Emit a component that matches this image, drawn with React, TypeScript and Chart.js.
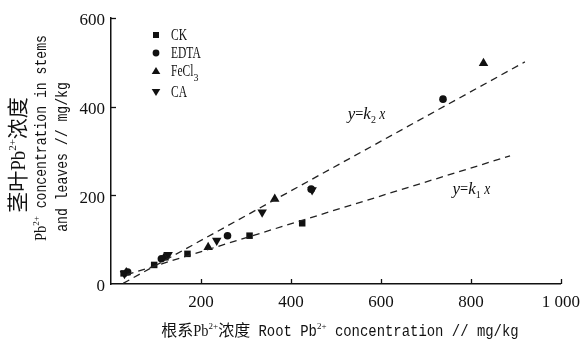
import React, { useEffect, useRef } from 'react';
import { Chart, registerables } from 'chart.js';

Chart.register(...registerables);

// ---- data ----
const xTicks = [0, 200, 400, 600, 800, 1000];
const yTicks = [0, 200, 400, 600];

const seriesNames = ['CK', 'EDTA', 'FeCl', 'CA'];

const ckX = [28, 96, 170, 308, 425];
const ckY = [24, 43, 68, 109, 137];

const edtaX = [37, 112, 259, 445, 738];
const edtaY = [27, 57, 109, 214, 417];

const fecl3X = [34, 118, 216, 364, 828];
const fecl3Y = [26, 59, 83, 192, 498];

const caX = [30, 127, 235, 336, 447];
const caY = [23, 66, 98, 162, 212];

const k1X = [35, 887];
const k1Y = [21, 289];
const k2X = [27, 920];
const k2Y = [1.5, 501];

const k1LabelPos = [801, 202];
const k2LabelPos = [568, 373];

// ---- fonts ----
const SERIF = "'Liberation Serif', 'Times New Roman', serif";
const MONO = "'Liberation Mono', monospace";
const CJK = "'Noto Sans CJK SC', sans-serif";
const INK = '#111111';

type Seg = { t: string; font: string; sx?: number; dy?: number };

function drawRich(ctx: CanvasRenderingContext2D, segs: Seg[], cx: number, cy: number, rot: number, align: 'center' | 'left' = 'center') {
  ctx.save();
  ctx.translate(cx, cy);
  ctx.rotate(rot);
  ctx.textBaseline = 'alphabetic';
  ctx.textAlign = 'left';
  ctx.fillStyle = INK;
  let total = 0;
  const widths = segs.map((s) => {
    ctx.font = s.font;
    const w = ctx.measureText(s.t).width * (s.sx ?? 1);
    total += w;
    return w;
  });
  let x = align === 'center' ? -total / 2 : 0;
  segs.forEach((s, i) => {
    ctx.font = s.font;
    ctx.save();
    ctx.translate(x, s.dy ?? 0);
    ctx.scale(s.sx ?? 1, 1);
    ctx.fillText(s.t, 0, 0);
    ctx.restore();
    x += widths[i];
  });
  ctx.restore();
}

function drawMarker(ctx: CanvasRenderingContext2D, kind: number, x: number, y: number) {
  ctx.save();
  ctx.fillStyle = INK;
  ctx.beginPath();
  if (kind === 0) {
    ctx.rect(x - 3, y - 3, 6, 6);
  } else if (kind === 1) {
    ctx.arc(x, y, 3.4, 0, Math.PI * 2);
  } else if (kind === 2) {
    ctx.moveTo(x, y - 4);
    ctx.lineTo(x + 4.3, y + 3);
    ctx.lineTo(x - 4.3, y + 3);
    ctx.closePath();
  } else {
    ctx.moveTo(x, y + 4);
    ctx.lineTo(x + 4.3, y - 3);
    ctx.lineTo(x - 4.3, y - 3);
    ctx.closePath();
  }
  ctx.fill();
  ctx.restore();
}

const inwardTicks = {
  id: 'inwardTicks',
  afterDatasetsDraw(chart: any) {
    const { ctx, chartArea, scales } = chart;
    ctx.save();
    ctx.strokeStyle = INK;
    ctx.lineWidth = 1.3;
    xTicks.forEach((v) => {
      if (v === 0) return;
      const px = Math.round(scales.x.getPixelForValue(v)) + 0.5;
      ctx.beginPath();
      ctx.moveTo(px, chartArea.bottom);
      ctx.lineTo(px, chartArea.bottom - 5);
      ctx.stroke();
    });
    yTicks.forEach((v) => {
      if (v === 0) return;
      const py = Math.round(scales.y.getPixelForValue(v)) + 0.5;
      ctx.beginPath();
      ctx.moveTo(chartArea.left, py);
      ctx.lineTo(chartArea.left + 5, py);
      ctx.stroke();
    });
    ctx.restore();
  },
};

const textLayer = {
  id: 'textLayer',
  afterDraw(chart: any) {
    const { ctx, scales } = chart;
    // x axis title
    drawRich(ctx, [
      { t: '根系', font: `16px ${CJK}` },
      { t: 'Pb', font: `16px ${SERIF}`, sx: 0.9 },
      { t: '2+', font: `9px ${SERIF}`, dy: -7 },
      { t: '浓度', font: `16px ${CJK}` },
      { t: ' Root Pb', font: `16px ${MONO}`, sx: 0.87 },
      { t: '2+', font: `9px ${SERIF}`, dy: -7 },
      { t: ' concentration // mg/kg', font: `16px ${MONO}`, sx: 0.87 },
    ], 340, 336, 0);

    // y axis title (three lines, rotated)
    const rot = -Math.PI / 2;
    drawRich(ctx, [
      { t: '茎叶', font: `21px ${CJK}` },
      { t: 'Pb', font: `21px ${SERIF}`, sx: 0.9 },
      { t: '2+', font: `11px ${SERIF}`, dy: -9 },
      { t: '浓度', font: `21px ${CJK}` },
    ], 25, 155, rot);
    drawRich(ctx, [
      { t: 'Pb', font: `16px ${SERIF}`, sx: 0.9 },
      { t: '2+', font: `9px ${SERIF}`, dy: -7 },
      { t: ' concentration in stems', font: `16px ${MONO}`, sx: 0.82 },
    ], 46, 138, rot);
    drawRich(ctx, [
      { t: 'and leaves // mg/kg', font: `16px ${MONO}`, sx: 0.82 },
    ], 67, 157, rot);

    // legend
    const rows = [35, 53, 71, 92];
    seriesNames.forEach((name, i) => {
      drawMarker(ctx, i, 156, rows[i]);
      const segs: Seg[] = [{ t: name, font: `16px ${SERIF}`, sx: 0.72 }];
      if (i === 2) segs.push({ t: '3', font: `10px ${SERIF}`, dy: 5 });
      drawRich(ctx, segs, 171, rows[i] + 5, 0, 'left');
    });

    // equation labels
    const eq = (sub: string, pos: number[]) => {
      const px = scales.x.getPixelForValue(pos[0]);
      const py = scales.y.getPixelForValue(pos[1]);
      drawRich(ctx, [
        { t: 'y', font: `italic 17px ${SERIF}` },
        { t: '=', font: `16px ${SERIF}`, sx: 0.9 },
        { t: 'k', font: `italic 17px ${SERIF}` },
        { t: sub, font: `10px ${SERIF}`, dy: 4 },
        { t: ' x', font: `italic 17px ${SERIF}`, sx: 0.8 },
      ], px, py, 0);
    };
    eq('2', k2LabelPos);
    eq('1', k1LabelPos);
  },
};

const pts = (xs: number[], ys: number[]) => xs.map((x, i) => ({ x, y: ys[i] }));

export default function App() {
  const ref = useRef<HTMLCanvasElement | null>(null);

  useEffect(() => {
    if (!ref.current) return;
    const marker = { backgroundColor: INK, borderColor: INK, borderWidth: 0 };
    const dashed = {
      showLine: true,
      borderColor: '#222222',
      borderWidth: 1.3,
      borderDash: [7, 5],
      pointRadius: 0,
      fill: false,
    };
    const chart = new Chart(ref.current, {
      type: 'scatter',
      data: {
        datasets: [
          { label: 'k1', data: pts(k1X, k1Y), ...dashed },
          { label: 'k2', data: pts(k2X, k2Y), ...dashed },
          { label: 'CK', data: pts(ckX, ckY), pointStyle: 'rect', pointRadius: 4.6, ...marker },
          { label: 'EDTA', data: pts(edtaX, edtaY), pointStyle: 'circle', pointRadius: 3.8, ...marker },
          { label: 'FeCl3', data: pts(fecl3X, fecl3Y), pointStyle: 'triangle', pointRadius: 5.5, ...marker },
          { label: 'CA', data: pts(caX, caY), pointStyle: 'triangle', pointRotation: 180, pointRadius: 5.5, ...marker },
        ] as any,
      },
      options: {
        animation: false,
        responsive: true,
        maintainAspectRatio: false,
        layout: { padding: { top: 18, right: 22, left: 0, bottom: 0 } },
        plugins: { legend: { display: false }, tooltip: { enabled: false } },
        scales: {
          x: {
            type: 'linear',
            min: 0,
            max: 1000,
            afterFit: (s: any) => { s.height = 60; },
            afterBuildTicks: (s: any) => { s.ticks = xTicks.map((v) => ({ value: v })); },
            ticks: {
              callback: (v: any) => (v === 0 ? '' : v === 1000 ? '1 000' : String(v)),
              font: { family: SERIF, size: 17 },
              color: INK,
              padding: 8,
              maxRotation: 0,
              autoSkip: false,
            },
            grid: { drawOnChartArea: false, drawTicks: false },
            border: { display: true, color: INK, width: 1.5 },
          },
          y: {
            type: 'linear',
            min: 0,
            max: 600,
            afterFit: (s: any) => { s.width = 111; },
            afterBuildTicks: (s: any) => { s.ticks = yTicks.map((v) => ({ value: v })); },
            ticks: {
              callback: (v: any) => String(v),
              font: { family: SERIF, size: 17 },
              color: INK,
              padding: 6,
              labelOffset: 3,
            },
            grid: { drawOnChartArea: false, drawTicks: false },
            border: { display: true, color: INK, width: 1.5 },
          },
        },
      } as any,
      plugins: [inwardTicks, textLayer],
    });
    return () => chart.destroy();
  }, []);

  return (
    <div style={{ position: 'fixed', left: 0, top: 0, width: 588, height: 344, background: '#fff' }}>
      <canvas ref={ref} />
    </div>
  );
}
